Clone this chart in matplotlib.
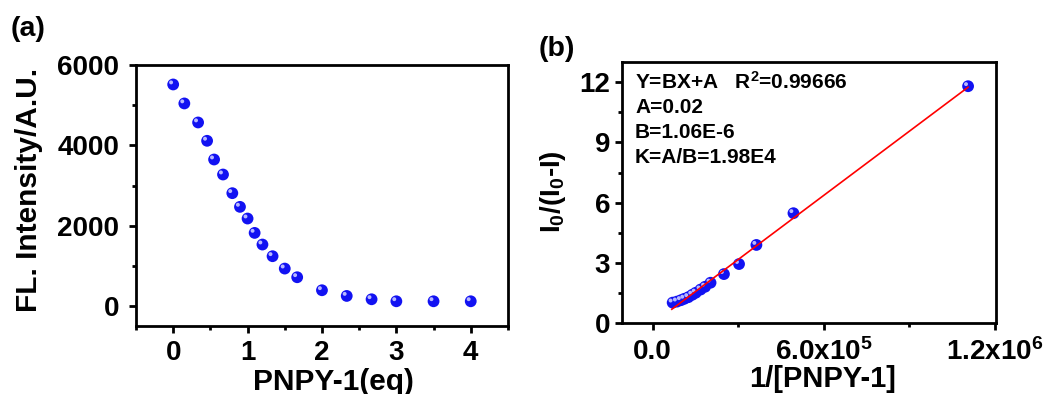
import numpy as np
import matplotlib.pyplot as plt
from matplotlib.ticker import MultipleLocator, FixedLocator, FixedFormatter
from matplotlib.transforms import offset_copy

plt.rcParams['font.family'] = ['Liberation Sans', 'DejaVu Sans']
plt.rcParams['font.weight'] = 'bold'
plt.rcParams['axes.labelweight'] = 'bold'
plt.rcParams['mathtext.default'] = 'regular'

# (a) titration curve
eq = [0, 0.15, 0.335, 0.456, 0.55, 0.67, 0.795, 0.898, 1.0, 1.095,
      1.2, 1.336, 1.5, 1.667, 2.0, 2.333, 2.667, 3.0, 3.5, 4.0]
intensity = [5519, 5046, 4572, 4115, 3649, 3275, 2810, 2469, 2178, 1820,
             1530, 1239, 931, 715, 391, 249, 166, 116, 116, 116]

# (b) Benesi-Hildebrand plot
inv_conc = [1.107e6, 4.94e5, 3.64e5, 3.03e5, 2.50e5, 2.03e5, 1.84e5, 1.68e5,
            1.51e5, 1.39e5, 1.25e5, 1.11e5, 9.9e4, 8.5e4, 7.0e4]
ratio = [11.8, 5.48, 3.9, 2.95, 2.45, 2.02, 1.82, 1.68,
         1.52, 1.42, 1.30, 1.22, 1.15, 1.08, 1.03]
fit_x = [6.7e4, 1.107e6]
fit_y = [0.7, 11.75]

fit_text = ['Y=BX+A   R$^2$=0.99666', 'A=0.02', 'B=1.06E-6', 'K=A/B=1.98E4']

fig = plt.figure(figsize=(10.46, 3.94), dpi=100)
ax1 = fig.add_axes([0.130, 0.1726, 0.3556, 0.662])
ax2 = fig.add_axes([0.5946, 0.1794, 0.3576, 0.663])


def balls(ax, x, y):
    # blue "sphere" markers like Origin
    ax.scatter(x, y, s=72, color='#1212f2', edgecolors='none', zorder=3)
    hl = offset_copy(ax.transData, fig=fig, x=-1.5, y=1.5, units='points')
    ax.scatter(x, y, s=8, color='#b8b8ff', edgecolors='none', transform=hl, zorder=4)


def style(ax, pad_x, pad_y):
    for sp in ax.spines.values():
        sp.set_linewidth(2)
    ax.tick_params(which='both', direction='out', width=2, top=False, right=False)
    ax.tick_params(which='major', length=5, labelsize=20)
    ax.tick_params(which='minor', length=3)
    ax.tick_params(axis='x', which='major', pad=pad_x)
    ax.tick_params(axis='y', which='major', pad=pad_y)


balls(ax1, eq, intensity)
ax1.set_xlim(-0.5, 4.5)
ax1.set_ylim(-500, 6000)
ax1.xaxis.set_major_locator(MultipleLocator(1))
ax1.xaxis.set_minor_locator(MultipleLocator(0.5))
ax1.yaxis.set_major_locator(MultipleLocator(2000))
ax1.yaxis.set_minor_locator(MultipleLocator(1000))
style(ax1, 5, 7)
ax1.set_xlabel('PNPY-1(eq)', fontsize=21.5, va='top')
ax1.set_ylabel('FL. Intensity/A.U.', fontsize=21.5)
ax1.xaxis.set_label_coords(0.53, -0.16)
ax1.yaxis.set_label_coords(-0.25, 0.52)

ax2.plot(fit_x, fit_y, color='red', lw=1.2, zorder=5)
balls(ax2, inv_conc, ratio)
ax2.set_xlim(-1.08e5, 1.205e6)
ax2.set_ylim(0, 13)
ax2.xaxis.set_major_locator(FixedLocator([0, 6e5, 1.2e6]))
ax2.xaxis.set_major_formatter(FixedFormatter(['0.0', '6.0x10$^5$', '1.2x10$^6$']))
ax2.xaxis.set_minor_locator(FixedLocator([3e5, 9e5]))
ax2.yaxis.set_major_locator(MultipleLocator(3))
ax2.yaxis.set_minor_locator(MultipleLocator(1.5))
style(ax2, 6, 3.5)
ax2.set_xlabel('1/[PNPY-1]', fontsize=21, va='top')
ax2.set_ylabel('I$_0$/(I$_0$-I)', fontsize=20)
ax2.xaxis.set_label_coords(0.537, -0.158)
ax2.yaxis.set_label_coords(-0.144, 0.506)

for i, line in enumerate(fit_text):
    ax2.text(0.035, 0.923 - i * 0.096, line, transform=ax2.transAxes,
             fontsize=15, fontweight='bold', va='center', ha='left')

fig.text(28 / 1046, 1 - 29 / 394, '(a)', fontsize=20.5, fontweight='bold', ha='center', va='center')
fig.text(557 / 1046, 1 - 49 / 394, '(b)', fontsize=20.5, fontweight='bold', ha='center', va='center')

fig.savefig('out.png', dpi=100)
